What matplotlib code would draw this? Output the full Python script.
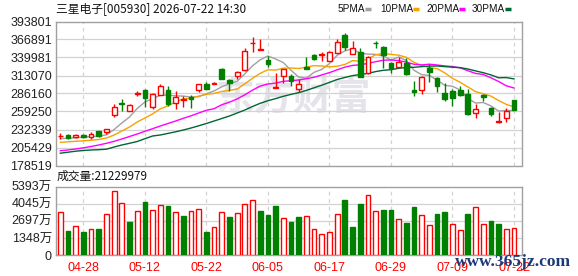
import numpy as np
import matplotlib
matplotlib.use("Agg")
import matplotlib.pyplot as plt
from matplotlib.lines import Line2D

plt.rcParams['font.family'] = ['Liberation Sans', 'Noto Sans CJK SC', 'DejaVu Sans']

# ---------------- data ----------------
title = "三星电子[005930] 2026-07-22 14:30"
vol_title = "成交量:21229979"

open_ = [222176, 224568, 220681, 223671, 220681, 230099, 228604, 254019, 271212, 260448,
         285414, 291843, 265531, 283471, 291394, 272408, 275996, 280182, 291843, 300364,
         300364, 322789, 306344, 311876, 321294, 361211, 351194, 335497, 294683, 312324,
         312324, 292441, 326228, 343719, 343719, 334450, 347158, 373619, 344766, 347756,
         316361, 361659, 356128, 332208, 325331, 332208, 291394, 290946, 323836, 308886,
         286461, 290348, 291394, 284966, 256561, 283919, 264933, 242807, 249086, 276444]
high = [227558, 226063, 225166, 225166, 228604, 230099, 233538, 270464, 277491, 270016,
        289899, 293338, 287358, 300364, 297374, 289899, 282424, 283919, 299916, 303354,
        303354, 323836, 308288, 319799, 354633, 370629, 366892, 342224, 316361, 322341,
        314866, 307391, 341178, 345663, 348204, 350148, 367191, 376161, 364649, 353736,
        342224, 364649, 357174, 333703, 341178, 338786, 305298, 312324, 329816, 311278,
        301411, 292441, 297374, 292889, 270016, 284966, 266428, 258953, 264036, 276444]
low = [217691, 217691, 219186, 219634, 218139, 221578, 225166, 251478, 260448, 260448,
       281976, 266428, 262541, 283471, 267474, 263438, 265531, 264933, 288853, 293338,
       299916, 307391, 290348, 308288, 320248, 348204, 351194, 325032, 293936, 301411,
       297374, 288853, 322042, 335796, 334749, 334301, 346261, 351194, 344766, 311278,
       315314, 354633, 323836, 317258, 324733, 313819, 282873, 284966, 303803, 287956,
       274949, 267474, 282873, 254019, 249086, 274949, 252524, 241611, 243003, 261494]
close = [222624, 220083, 224119, 221129, 225166, 222176, 233089, 265531, 269717, 268521,
         286162, 279434, 285414, 296926, 270913, 280481, 277491, 277939, 299916, 293338,
         301859, 307839, 301411, 317856, 349251, 361659, 352241, 330264, 295431, 322341,
         304849, 300364, 323238, 338188, 344467, 347756, 362706, 356128, 353736, 311278,
         341178, 360912, 343719, 323836, 333703, 315314, 287956, 310381, 318753, 297823,
         277491, 279883, 283919, 255066, 262989, 281378, 255066, 245049, 259999, 261494]

ma5 = [218588, 219186, 220083, 220681, 221877, 222176, 224418, 232342, 242059, 251029,
       263737, 273454, 278687, 283321, 283770, 282574, 282275, 280780, 281378, 285863,
       290049, 296178, 300813, 304401, 315613, 327573, 336543, 342224, 337739, 332357,
       320995, 310680, 309185, 317856, 322191, 330862, 343271, 349849, 352988, 346261,
       345065, 344616, 342224, 336244, 340729, 335497, 320846, 314268, 313221, 306045,
       298421, 296926, 291544, 278836, 271810, 272707, 267624, 259850, 260896, 260597]
ma10 = [213206, 213953, 214701, 215448, 216345, 217392, 219634, 224119, 230099, 236079,
        243554, 249534, 255664, 263139, 267773, 273604, 278089, 279285, 282275, 284816,
        286311, 289152, 290796, 292889, 300663, 308886, 316361, 321593, 321145, 323985,
        324284, 323537, 325779, 327723, 327274, 325929, 326975, 329517, 335347, 334301,
        337889, 344018, 345962, 344616, 343420, 340281, 332806, 328171, 324733, 323387,
        316959, 308886, 302906, 296029, 289002, 285564, 282275, 275697, 269866, 266278]
ma20 = [200648, 201694, 203189, 204983, 206927, 209169, 211711, 214701, 218139, 221877,
        225614, 229651, 233538, 237574, 241312, 245049, 249086, 252823, 257009, 261046,
        263438, 269418, 273155, 278089, 284218, 291245, 297225, 300364, 301710, 304401,
        305298, 306344, 308288, 310381, 313969, 317407, 321593, 325480, 328171, 329068,
        331161, 333703, 335945, 336244, 335347, 333105, 329816, 328919, 329965, 328769,
        327424, 326377, 324434, 320248, 316211, 314567, 309633, 304102, 297673, 294384]
ma30 = [196910, 198405, 199900, 200947, 201694, 202143, 202890, 206179, 209169, 211711,
        214402, 218588, 222624, 224119, 226511, 228903, 231594, 234584, 237873, 241312,
        245049, 248787, 252524, 257009, 261494, 266727, 271511, 275398, 278537, 281976,
        284816, 287358, 290796, 294683, 298570, 302756, 307092, 310082, 312922, 314417,
        316211, 318902, 320846, 321743, 323836, 325032, 325331, 326377, 327125, 327274,
        326377, 325480, 324882, 322789, 319949, 317258, 313969, 309633, 309932, 307989]

# volume in 万 (10k shares)
volume = [3394, 1921, 2289, 1815, 2026, 2052, 3236, 5052, 4104, 2631,
          3473, 4183, 3552, 3947, 3868, 3394, 3078, 3473, 3631, 1815,
          2184, 3394, 2999, 3315, 4025, 4341, 3473, 3157, 3868, 2920,
          2631, 2999, 3078, 2052, 1631, 1815, 3236, 4341, 2210, 4025,
          4736, 3473, 3552, 3552, 2841, 2526, 3789, 3131, 2368, 3236,
          3394, 2447, 1973, 3236, 3789, 2447, 2684, 2447, 2052, 2123]

price_ticks = [178519, 205429, 232339, 259250, 286160, 313070, 339981, 366891, 393801]
price_tick_labels = ["178519", "205429", "232339", "259250", "286160",
                     "313070", "339981", "366891", "393801"]
vol_ticks = [0, 1348.25, 2696.5, 4044.75, 5393]
vol_tick_labels = ["0", "1348万", "2697万", "4045万", "5393万"]
date_idx = [3, 11, 19, 27, 35, 43, 51, 59]
date_labels = ["04-28", "05-12", "05-22", "06-05", "06-17", "06-29", "07-09", "07-22"]

ma_names = ["5PMA", "10PMA", "20PMA", "30PMA"]

# ---------------- style ----------------
RED = "#ff0000"
GREEN = "#008000"
MA_COLORS = ["#a0a0a0", "#f5a300", "#ff00ff", "#006633"]
FRAME = "#a0a0a0"
GRID = "#d2d2d2"

W, H = 578, 276
fig = plt.figure(figsize=(W / 100, H / 100), dpi=100)
fig.patch.set_facecolor("white")

def fx(px):
    return px / W

def fy(py):
    return 1 - py / H

ax_p = fig.add_axes([fx(56), fy(165.5), fx(522) - fx(56), fy(21.5) - fy(165.5)])
ax_v = fig.add_axes([fx(56), fy(255), fx(522) - fx(56), fy(186.7) - fy(255)])

n = len(close)
x = np.arange(n)
o = np.array(open_, float)
c = np.array(close, float)
h = np.array(high, float)
l = np.array(low, float)
up = c >= o

for ax in (ax_p, ax_v):
    ax.set_xlim(-0.56, 60.04)
    ax.patch.set_alpha(0)
    for s in ax.spines.values():
        s.set_color(FRAME)
        s.set_linewidth(1.0)
    ax.tick_params(length=0)
    for xi in date_idx:
        ax.axvline(xi, color=GRID, lw=0.9, ls=(0, (3, 3)), zorder=0)

# watermark (behind the axes)
fig.text(fx(293), fy(99), "东方财富", fontsize=28, color="#e4e4ea",
         family=["Noto Sans CJK SC"], fontweight="bold", ha="center", va="center",
         zorder=-5)

# price panel
ax_p.set_ylim(price_ticks[0], price_ticks[-1])
ax_p.set_yticks(price_ticks)
ax_p.set_yticklabels(price_tick_labels)
ax_p.set_xticks([])
for t in price_ticks[1:-1]:
    ax_p.axhline(t, color=GRID, lw=0.9, zorder=0)

ccol = np.where(up, RED, GREEN)
ax_p.vlines(x, l, h, colors=ccol, lw=1.0, zorder=3)
body_h = np.maximum(np.abs(c - o), 300)
ax_p.bar(x, body_h, bottom=np.minimum(o, c), width=0.62,
         color=np.where(up, "white", GREEN), edgecolor=ccol, linewidth=1.0, zorder=4)

for ma, col in zip([ma5, ma10, ma20, ma30], MA_COLORS):
    ax_p.plot(x, ma, color=col, lw=1.0, zorder=2)

ax_p.tick_params(axis="y", labelsize=9, pad=3, labelcolor="#222222")

# volume panel
vol_up = np.concatenate([[True], c[1:] >= c[:-1]])
vcol = np.where(vol_up, RED, GREEN)
ax_v.set_ylim(0, vol_ticks[-1])
ax_v.set_yticks(vol_ticks)
ax_v.set_yticklabels(vol_tick_labels)
for t in vol_ticks[1:-1]:
    ax_v.axhline(t, color=GRID, lw=0.9, zorder=0)
ax_v.bar(x, volume, width=0.62, color=np.where(vol_up, "white", GREEN),
         edgecolor=vcol, linewidth=1.0, zorder=3)
ax_v.set_xticks(date_idx)
ax_v.set_xticklabels(date_labels)
ax_v.tick_params(axis="y", labelsize=9, pad=3, labelcolor="#222222")
ax_v.tick_params(axis="x", labelsize=9, pad=5, labelcolor=RED)

# title & labels
fig.text(fx(56), fy(9), title, fontsize=8.5, ha="left", va="center", color="#111111",
         family=["Noto Sans CJK SC", "DejaVu Sans"])
fig.text(fx(57), fy(176.5), vol_title, fontsize=8.5, ha="left", va="center", color="#111111",
         family=["Noto Sans CJK SC", "DejaVu Sans"])

# legend
leg_x = [338, 380, 426, 472]
dash_x = [365, 413, 459, 505]
for name, col, tx, dx in zip(ma_names, MA_COLORS, leg_x, dash_x):
    fig.text(fx(tx), fy(9), name, fontsize=7.2, ha="left", va="center", color="#111111")
    fig.add_artist(Line2D([fx(dx), fx(dx + 6)], [fy(9), fy(9)], color=col, lw=2.5,
                          solid_capstyle="butt", transform=fig.transFigure))

# site watermark
fig.text(fx(513), fy(262), "www.365jz.com", fontsize=12.5, ha="center", va="center",
         color="#1d3a78", family=["Liberation Serif"], fontweight="bold", zorder=10)

fig.savefig("out.png", dpi=100, facecolor="white")
